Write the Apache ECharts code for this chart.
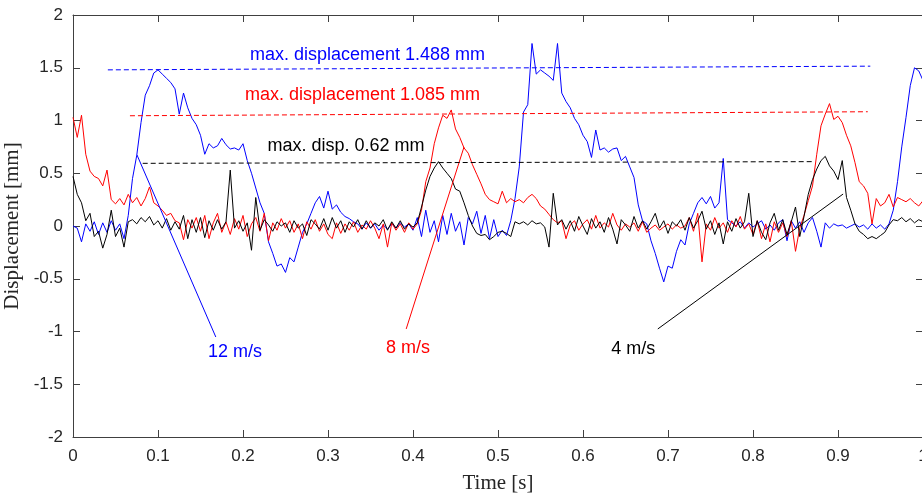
<!DOCTYPE html>
<html>
<head>
<meta charset="utf-8">
<style>
  html, body { margin: 0; padding: 0; background: #ffffff; }
  #chart { width: 922px; height: 494px; }
</style>
<script src="https://cdn.jsdelivr.net/npm/echarts@6/dist/echarts.min.js"></script>
</head>
<body>
<div id="chart"></div>
<script>
// Sampling interval of the displacement records [s]
const dt = 0.005;

// Displacement [mm] at 12 m/s
const disp12 = [
  0.00, -0.02, -0.15, 0.02, -0.05, 0.04, -0.08, 0.03, -0.06, 0.05,
  -0.04, 0.02, -0.12, 0.10, 0.45, 0.67, 0.98, 1.24, 1.33, 1.45,
  1.48, 1.44, 1.40, 1.36, 1.30, 1.06, 1.26, 1.12, 1.02, 0.96,
  0.86, 0.68, 0.78, 0.74, 0.76, 0.83, 0.77, 0.73, 0.74, 0.72,
  0.78, 0.62, 0.50, 0.36, 0.22, 0.12, -0.15, -0.26, -0.38, -0.36,
  -0.44, -0.30, -0.34, -0.20, -0.06, 0.02, 0.12, 0.22, 0.28, 0.17,
  0.33, 0.16, 0.20, 0.13, 0.09, 0.07, 0.04, 0.02, -0.03, 0.03,
  -0.02, 0.02, -0.04, 0.01, -0.03, 0.02, -0.02, 0.03, -0.01, 0.02,
  -0.04, 0.08, -0.10, 0.15, -0.06, 0.05, -0.15, 0.10, -0.08, 0.12,
  -0.05, 0.04, -0.18, 0.08, 0.02, 0.14, -0.07, 0.10, -0.12, 0.06,
  -0.10, -0.04, -0.09, 0.05, 0.26, 0.56, 1.08, 1.15, 1.73, 1.44,
  1.48, 1.45, 1.42, 1.38, 1.73, 1.26, 1.18, 1.12, 1.02, 0.96,
  0.86, 0.80, 0.65, 0.91, 0.72, 0.74, 0.70, 0.73, 0.74, 0.62,
  0.66, 0.56, 0.46, 0.20, 0.05, 0.02, -0.14, -0.26, -0.40, -0.53,
  -0.38, -0.40, -0.24, -0.13, -0.18, 0.02, 0.12, 0.22, 0.27, 0.21,
  0.28, 0.17, 0.22, 0.64, 0.06, 0.03, 0.00, 0.04, -0.02, 0.03,
  -0.01, 0.02, 0.05, -0.03, 0.01, -0.04, 0.03, 0.06, -0.14, 0.05,
  -0.02, 0.04, -0.06, 0.03, 0.08, -0.05, -0.20, 0.03, -0.02, 0.02,
  0.00, 0.01, -0.02, 0.00, 0.02, -0.01, 0.01, -0.03, 0.02, -0.02,
  0.01, -0.03, 0.02, 0.15, 0.42, 0.75, 1.03, 1.33, 1.50, 1.47,
  1.38
];

// Displacement [mm] at 8 m/s
const disp8 = [
  1.03, 0.84, 1.05, 0.68, 0.52, 0.47, 0.45, 0.38, 0.53, 0.25,
  0.21, 0.26, 0.20, 0.30, 0.22, 0.27, 0.19, 0.26, 0.37, 0.22,
  0.19, 0.15, 0.10, 0.12, 0.05, 0.03, -0.13, 0.06, -0.02, 0.08,
  -0.05, 0.10, -0.12, 0.03, 0.12, -0.06, 0.04, -0.08, 0.07, -0.03,
  0.10, -0.10, 0.02, 0.08, -0.05, 0.12, -0.14, 0.03, -0.04, 0.07,
  -0.02, 0.05, -0.06, 0.02, -0.12, 0.04, -0.03, 0.06, -0.05, 0.02,
  -0.08, -0.12, 0.03, -0.07, 0.02, -0.04, 0.04, -0.06, 0.01, -0.03,
  0.05, -0.02, -0.12, 0.02, -0.20, 0.03, -0.04, 0.02, -0.06, 0.03,
  -0.03, 0.02, 0.15, 0.42, 0.55, 0.78, 0.93, 1.05, 1.02, 1.10,
  0.92, 0.84, 0.74, 0.69, 0.58, 0.49, 0.40, 0.30, 0.25, 0.23,
  0.21, 0.33, 0.22, 0.26, 0.23, 0.25, 0.22, 0.27, 0.30, 0.26,
  0.19, 0.16, 0.11, 0.06, 0.03, 0.05, -0.12, 0.01, 0.05, -0.04,
  0.02, 0.06, -0.03, 0.10, -0.02, 0.03, -0.01, 0.12, 0.01, -0.04,
  0.02, -0.01, 0.03, -0.05, 0.04, -0.06, -0.02, 0.01, -0.04, -0.01,
  0.02, -0.03, 0.01, -0.02, 0.00, 0.08, -0.05, 0.12, -0.34, 0.02,
  -0.04, 0.08, -0.02, 0.03, -0.06, 0.05, -0.01, 0.09, -0.03, 0.02,
  -0.08, 0.05, -0.12, 0.02, -0.15, 0.04, -0.06, 0.03, -0.10, 0.05,
  -0.24, -0.02, 0.10, 0.24, 0.38, 0.68, 0.95, 1.06, 1.16, 1.01,
  1.04, 0.98, 0.86, 0.76, 0.60, 0.42, 0.38, 0.31, 0.02, 0.26,
  0.19, 0.22, 0.30, 0.18, 0.27, 0.25, 0.23, 0.26, 0.22, 0.19,
  0.24
];

// Displacement [mm] at 4 m/s
const disp4 = [
  0.47, 0.30, 0.22, 0.05, 0.12, -0.10, -0.05, -0.21, -0.08, 0.15,
  -0.10, -0.02, -0.20, 0.04, 0.06, 0.02, 0.08, 0.04, 0.09, 0.01,
  0.05, -0.02, 0.07, -0.04, 0.04, -0.03, 0.10, -0.12, 0.06, -0.06,
  0.08, -0.11, 0.05, -0.04, 0.06, -0.03, 0.04, 0.53, -0.02, 0.05,
  -0.05, 0.03, -0.23, 0.27, -0.04, 0.06, 0.01, -0.05, 0.04, 0.00,
  0.03, -0.06, 0.05, -0.02, 0.02, -0.09, 0.06, 0.02, -0.03, 0.07,
  -0.04, 0.08, -0.02, 0.05, -0.06, 0.04, -0.01, 0.06, -0.03, 0.05,
  -0.02, 0.03, 0.00, 0.06, -0.04, 0.04, -0.02, 0.05, -0.03, 0.02,
  -0.01, 0.03, 0.18, 0.34, 0.47, 0.55, 0.61, 0.55, 0.50, 0.45,
  0.35, 0.33, 0.22, 0.10, 0.00, -0.07, -0.09, -0.08, -0.13, -0.10,
  -0.06, -0.05, -0.07, -0.10, 0.04, 0.02, 0.04, 0.01, 0.05, 0.02,
  0.03, -0.01, -0.20, 0.31, 0.01, 0.06, -0.03, 0.05, -0.05, 0.09,
  0.00, -0.08, 0.07, -0.02, 0.04, -0.06, 0.08, -0.03, -0.17, 0.06,
  0.01, -0.05, 0.09, -0.02, 0.05, -0.03, 0.04, 0.12, -0.02, 0.05,
  -0.07, 0.04, 0.00, 0.06, -0.04, 0.08, -0.02, 0.05, 0.14, -0.03,
  0.05, -0.08, 0.03, -0.17, 0.04, -0.05, 0.07, -0.02, 0.04, 0.31,
  -0.10, 0.05, -0.06, -0.13, 0.03, 0.12, -0.04, 0.06, -0.08, 0.04,
  0.18, -0.10, 0.09, 0.30, 0.44, 0.54, 0.62, 0.66, 0.57, 0.52,
  0.44, 0.62, 0.27, 0.15, 0.02, -0.05, -0.08, -0.12, -0.10, -0.12,
  -0.09, -0.06, 0.01, 0.06, 0.05, 0.08, 0.04, 0.07, 0.03, 0.06,
  0.04
];

// Peak displacement per speed [mm]
const peakValues = [1.488, 1.085, 0.62];
const speedLabels = ['12 m/s', '8 m/s', '4 m/s'];
const xTicks = [0, 1, 0.1];      // min, max, step of the time axis
const yTicks = [-2, 2, 0.5];     // min, max, step of the displacement axis

const toPairs = arr => arr.map((v, i) => [+(i * dt).toFixed(3), v]);

const BLUE = '#0000ff', RED = '#ff0000', BLACK = '#000000';
const AXIS = '#404040', TEXT = '#262626';
const sansFont = '"Liberation Sans", Arial, sans-serif';
const serifFont = '"Liberation Serif", "Times New Roman", serif';

// Straight guide segments of one colour: a dashed peak level and a label leader
function guides(color, level, leader) {
  const dashed = { color: color, width: 1, type: [5, 3], opacity: 1 };
  const solid = { color: color, width: 1, type: 'solid', opacity: 1 };
  return {
    silent: true,
    symbol: ['none', 'none'],
    label: { show: false },
    emphasis: { disabled: true },
    animation: false,
    lineStyle: { color: color, width: 1, opacity: 1 },
    itemStyle: { color: color },
    data: [
      [{ coord: level[0], lineStyle: dashed, itemStyle: { color: color } },
       { coord: level[1], lineStyle: dashed, itemStyle: { color: color } }],
      [{ coord: leader[0], lineStyle: solid, itemStyle: { color: color } },
       { coord: leader[1], lineStyle: solid, itemStyle: { color: color } }]
    ]
  };
}

const axisCommon = {
  type: 'value',
  axisLine: { show: true, onZero: false, lineStyle: { color: AXIS, width: 1 } },
  axisTick: { show: true, inside: true, length: 7, lineStyle: { color: AXIS, width: 1 } },
  splitLine: { show: false }
};

const chart = echarts.init(document.getElementById('chart'), null, { renderer: 'canvas' });

const option = {
  animation: false,
  backgroundColor: '#ffffff',
  grid: { left: 73, top: 15, width: 850, height: 422, containLabel: false, outerBoundsMode: 'none' },
  xAxis: [
    Object.assign({}, axisCommon, {
      min: xTicks[0], max: xTicks[1], interval: xTicks[2],
      position: 'bottom',
      name: 'Time [s]', nameLocation: 'middle', nameGap: 36,
      nameTextStyle: { fontFamily: serifFont, fontSize: 21, color: TEXT },
      axisLabel: { fontFamily: sansFont, fontSize: 17, color: TEXT, margin: 11 }
    }),
    Object.assign({}, axisCommon, {
      min: xTicks[0], max: xTicks[1], interval: xTicks[2],
      position: 'top', axisLabel: { show: false }
    })
  ],
  yAxis: [
    Object.assign({}, axisCommon, {
      min: yTicks[0], max: yTicks[1], interval: yTicks[2],
      position: 'left',
      name: 'Displacement [mm]', nameLocation: 'middle', nameGap: 45,
      nameTextStyle: { fontFamily: serifFont, fontSize: 21, color: TEXT },
      axisLabel: { fontFamily: sansFont, fontSize: 17, color: TEXT, margin: 10 }
    }),
    Object.assign({}, axisCommon, {
      min: yTicks[0], max: yTicks[1], interval: yTicks[2],
      position: 'right', axisLabel: { show: false }
    })
  ],
  series: [
    {
      name: speedLabels[0], type: 'line', data: toPairs(disp12),
      showSymbol: false, symbol: 'none', sampling: false,
      lineStyle: { color: BLUE, width: 1 }, itemStyle: { color: BLUE },
      markLine: guides(BLUE,
        [[0.041, peakValues[0] - 0.008], [0.938, peakValues[0] + 0.027]],
        [[0.0753, 0.673], [0.168, -1.052]])
    },
    {
      name: speedLabels[1], type: 'line', data: toPairs(disp8),
      showSymbol: false, symbol: 'none', sampling: false,
      lineStyle: { color: RED, width: 1 }, itemStyle: { color: RED },
      markLine: guides(RED,
        [[0.067, peakValues[1] - 0.04], [0.935, peakValues[1] - 0.002]],
        [[0.46, 0.749], [0.392, -0.976]])
    },
    {
      name: speedLabels[2], type: 'line', data: toPairs(disp4),
      showSymbol: false, symbol: 'none', sampling: false,
      lineStyle: { color: BLACK, width: 1 }, itemStyle: { color: BLACK },
      markLine: guides(BLACK,
        [[0.082, peakValues[2] - 0.026], [0.872, peakValues[2] - 0.01]],
        [[0.906, 0.303], [0.688, -0.976]])
    }
  ]
};

chart.setOption(option);

// Annotation texts placed in data coordinates
const notes = [
  { text: 'max. displacement ' + peakValues[0].toFixed(3) + ' mm', at: [0.3465, 1.621], color: BLUE },
  { text: 'max. displacement ' + peakValues[1].toFixed(3) + ' mm', at: [0.3406, 1.246], color: RED },
  { text: 'max. disp. ' + peakValues[2].toFixed(2) + ' mm', at: [0.3212, 0.758], color: BLACK },
  { text: speedLabels[0], at: [0.1906, -1.199], color: BLUE },
  { text: speedLabels[1], at: [0.394, -1.152], color: RED },
  { text: speedLabels[2], at: [0.659, -1.166], color: BLACK }
];

chart.setOption({
  graphic: notes.map(n => {
    const p = chart.convertToPixel({ xAxisIndex: 0, yAxisIndex: 0 }, n.at);
    return {
      type: 'text', x: p[0], y: p[1], silent: true, z: 100,
      style: {
        text: n.text, fill: n.color, font: '18px ' + sansFont,
        textAlign: 'center', textVerticalAlign: 'middle'
      }
    };
  })
});
</script>
</body>
</html>
